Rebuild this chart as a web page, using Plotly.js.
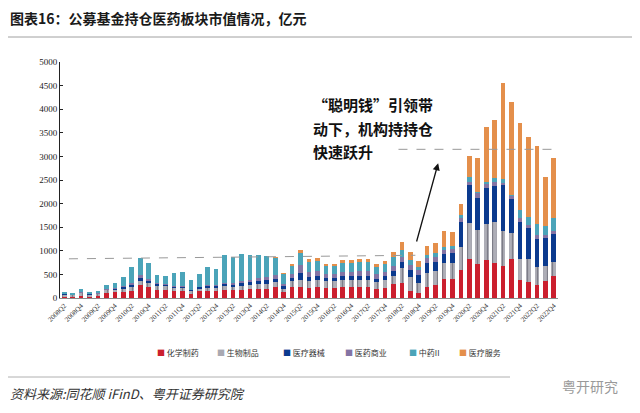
<!DOCTYPE html>
<html>
<head>
<meta charset="utf-8">
<script src="https://cdn.plot.ly/plotly-3.0.1.min.js"></script>
<style>
html,body{margin:0;padding:0;background:#fff;}
#chart{width:640px;height:413px;}
</style>
</head>
<body>
<div id="chart"></div>
<script>
const quarters = ["2008Q2","2008Q3","2008Q4","2009Q1","2009Q2","2009Q3","2009Q4","2010Q1","2010Q2","2010Q3","2010Q4",
"2011Q1","2011Q2","2011Q3","2011Q4","2012Q1","2012Q2","2012Q3","2012Q4","2013Q1","2013Q2","2013Q3","2013Q4",
"2014Q1","2014Q2","2014Q3","2014Q4","2015Q1","2015Q2","2015Q3","2015Q4","2016Q1","2016Q2","2016Q3","2016Q4",
"2017Q1","2017Q2","2017Q3","2017Q4","2018Q1","2018Q2","2018Q3","2018Q4","2019Q1","2019Q2","2019Q3","2019Q4",
"2020Q1","2020Q2","2020Q3","2020Q4","2021Q1","2021Q2","2021Q3","2021Q4","2022Q1","2022Q2","2022Q3","2022Q4"];

const tickLabels = ["2008Q2","2008Q4","2009Q2","2009Q4","2010Q2","2010Q4","2011Q2","2011Q4","2012Q2","2012Q4",
"2013Q2","2013Q4","2014Q2","2014Q4","2015Q2","2015Q4","2016Q2","2016Q4","2017Q2","2017Q4","2018Q2","2018Q4",
"2019Q2","2019Q4","2020Q2","2020Q4","2021Q2","2021Q4","2022Q2","2022Q4"];

// 化学制药
const chemPharma = [30,25,40,30,35,100,120,130,150,280,230,180,170,150,150,90,140,150,150,170,160,170,190,190,200,230,130,
230,240,220,230,210,210,230,230,230,230,200,220,290,311,155,113,240,276,396,396,594,820,721,806,735,679,820,382,346,276,368,474];
// 生物制品
const bioProducts = [40,35,60,40,50,60,60,70,80,90,90,80,80,60,60,60,60,70,70,80,80,90,90,100,100,100,70,
120,140,150,150,140,140,150,150,160,160,140,160,170,318,297,198,283,297,339,339,495,765,721,764,884,749,552,438,474,389,311,297];
// 医疗器械
const medDevices = [10,5,15,10,10,15,20,30,40,60,50,30,30,25,25,20,25,30,25,40,40,50,60,70,80,80,50,
80,143,80,80,70,70,80,80,80,80,70,80,110,141,142,177,212,197,191,212,530,812,672,756,757,969,721,799,658,586,587,586];
// 医药商业
const medCommerce = [5,5,10,5,10,15,20,30,40,60,40,20,20,15,15,10,15,20,20,30,30,40,50,60,70,80,50,
80,177,110,110,90,90,100,100,100,100,90,100,110,107,106,106,106,107,92,92,71,71,106,85,91,50,70,71,70,85,70,71];
// 中药II
const tcm = [35,36,65,42,50,86,105,192,340,365,340,178,167,273,294,202,269,380,343,599,567,583,529,485,441,367,213,
170,247,200,210,160,160,190,190,190,190,160,170,180,141,106,71,71,84,71,71,70,106,35,56,71,70,22,176,177,234,191,262];
// 医疗服务
const medServices = [0,0,0,0,0,0,0,0,0,0,0,0,0,0,0,0,0,0,0,0,0,0,0,0,0,20,10,
41,71,60,61,44,44,56,56,67,67,54,62,120,177,177,120,198,213,332,297,234,424,721,1153,1237,2036,1965,1839,1683,1654,1032,1272];

const seriesNames = ["化学制药","生物制品","医疗器械","医药商业","中药II","医疗服务"];
const seriesData = [chemPharma, bioProducts, medDevices, medCommerce, tcm, medServices];
const seriesColors = ["#CB1F2E","#A9A9B2","#0B3A8E","#8474A4","#4BA4B9","#E48F4B"];

const noteLines = ["“聪明钱”引领带","动下，机构持持仓","快速跃升"];

const serif = "Liberation Serif, DejaVu Serif, serif";
const cjk = "Noto Sans CJK SC, sans-serif";

// plot-area geometry helpers (pixel -> paper)
const PL = 60, PW = 498, PB = 298, PH = 236;
const px = v => (v - PL) / PW;
const py = v => (PB - v) / PH;

const traces = seriesData.map((vals, k) => {
  const t = {
    type: "bar",
    name: seriesNames[k],
    x: quarters,
    y: vals,
    marker: {color: seriesColors[k], line: {width: 0}},
    hoverinfo: "x+y+name"
  };
  if (k === 1) {
    t.marker.pattern = {shape: "|", fgcolor: "#7d7d88", bgcolor: "#AEAEB7", size: 5, solidity: 0.25};
  }
  return t;
});

const annotations = [
  {xref:"paper", yref:"paper", x:px(8), y:py(18), xanchor:"left", yanchor:"middle",
   text:"<b>图表16：公募基金持仓医药板块市值情况，亿元</b>", showarrow:false,
   font:{family:cjk, size:14, color:"#1a1a1a"}},
  {xref:"paper", yref:"paper", x:px(8), y:py(393), xanchor:"left", yanchor:"middle",
   text:"<i>资料来源:同花顺 iFinD、粤开证券研究院</i>", showarrow:false,
   font:{family:cjk, size:13, color:"#333333"}},
  {xref:"paper", yref:"paper", x:px(620), y:py(386), xanchor:"right", yanchor:"middle",
   text:"粤开研究", showarrow:false,
   font:{family:cjk, size:14, color:"#9a9a9a"}},
  {xref:"x", yref:"y", axref:"x", ayref:"y", x:44.3, y:2855, ax:41.7, ay:1166, text:"",
   showarrow:true, arrowhead:2, arrowsize:1.1, arrowwidth:1.3, arrowcolor:"#111", standoff:0}
];
const lineY = [104,128,151];
noteLines.forEach((s,i)=>{
  annotations.push({xref:"paper", yref:"paper", x:px(311), y:py(lineY[i]),
    xanchor:"left", yanchor:"middle", text:"<b>"+s+"</b>", showarrow:false,
    font:{family:cjk, size:15, color:"#111"}});
});
// compact legend row
const legendX = [155, 215, 281, 343, 407, 457];
seriesNames.forEach((n,k)=>{
  annotations.push({xref:"paper", yref:"paper", x:px(legendX[k]), y:py(352),
    xanchor:"left", yanchor:"middle", showarrow:false,
    text:'<span style="color:'+seriesColors[k]+'">■</span> '+n,
    font:{family:cjk, size:8, color:"#333"}});
});

const layout = {
  width:640, height:413,
  margin:{l:PL, r:640-PL-PW, t:62, b:413-PB},
  paper_bgcolor:"#fff", plot_bgcolor:"#fff",
  barmode:"stack", bargap:0.45,
  showlegend:false,
  xaxis:{type:"category", range:[-0.5,58.5], tickmode:"array", tickvals:tickLabels, ticktext:tickLabels,
    tickangle:-45, tickfont:{family:serif, size:7, color:"#333"}, showline:true, linecolor:"#8c8c8c",
    linewidth:1, ticks:"", showgrid:false, zeroline:false, fixedrange:true},
  yaxis:{range:[0,5000], dtick:500, tick0:0, tickfont:{family:serif, size:9, color:"#222"},
    showline:true, linecolor:"#222", linewidth:1, ticks:"inside", ticklen:3, tickcolor:"#222",
    showgrid:false, zeroline:false, fixedrange:true},
  shapes:[
    {type:"line", xref:"paper", yref:"paper", x0:px(8), x1:px(632), y0:py(37), y1:py(37),
     line:{color:"#a0a0a0", width:1}},
    {type:"line", xref:"paper", yref:"paper", x0:px(8), x1:px(510), y0:py(377), y1:py(377),
     line:{color:"#b0b0b0", width:1}},
    {type:"line", xref:"x", yref:"y", x0:0.56, y0:830, x1:41.6, y1:905,
     line:{color:"#999", width:1, dash:"dash"}},
    {type:"line", xref:"x", yref:"y", x0:39.6, y0:3150, x1:58.5, y1:3150,
     line:{color:"#999", width:1, dash:"dash"}}
  ],
  annotations: annotations
};

Plotly.newPlot("chart", traces, layout, {displayModeBar:false, staticPlot:true});
</script>
</body>
</html>
